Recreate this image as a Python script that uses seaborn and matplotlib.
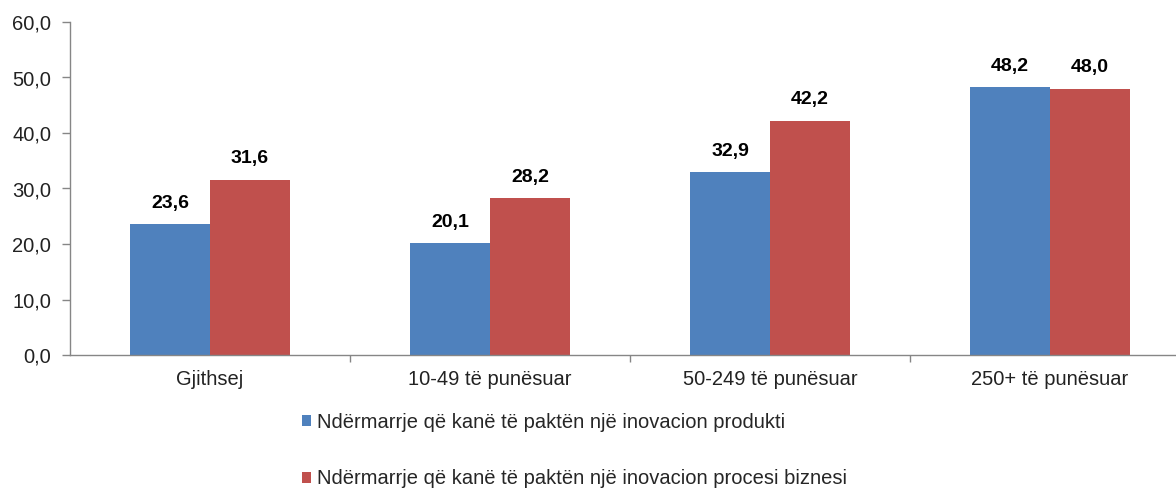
import matplotlib
matplotlib.use('Agg')
from matplotlib import pyplot as plt
from matplotlib.patches import Patch
from matplotlib.ticker import FixedLocator, FuncFormatter
import pandas as pd
import seaborn as sns

categories = ['Gjithsej', '10-49 të punësuar', '50-249 të punësuar', '250+ të punësuar']
series_names = ['Ndërmarrje që kanë të paktën një inovacion produkti',
                'Ndërmarrje që kanë të paktën një inovacion procesi biznesi']
produkti = [23.6, 20.1, 32.9, 48.2]
procesi = [31.6, 28.2, 42.2, 48.0]
colors = ['#4F81BD', '#C0504D']

df = pd.DataFrame({
    'kategoria': categories * 2,
    'seria': [series_names[0]] * 4 + [series_names[1]] * 4,
    'vlera': produkti + procesi,
})

sns.set_style('white')
plt.rcParams['font.family'] = ['Liberation Sans', 'DejaVu Sans']

fig = plt.figure(figsize=(11.76, 4.9), dpi=100)
ax = fig.add_axes([70 / 1176, 135 / 490, 1120 / 1176, 333 / 490])

sns.barplot(data=df, x='kategoria', y='vlera', hue='seria', order=categories,
            hue_order=series_names, palette=colors, width=0.572, saturation=1,
            linewidth=0, legend=False, ax=ax)

for cont in ax.containers:
    ax.bar_label(cont, labels=[f'{v:.1f}'.replace('.', ',') for v in cont.datavalues],
                 padding=9, fontsize=14, fontweight='bold', color='black')

ax.set_xlim(-0.5, 3.5)
ax.set_ylim(0, 60)
ax.set_yticks(range(0, 61, 10))
ax.yaxis.set_major_formatter(FuncFormatter(lambda v, p: f'{v:.1f}'.replace('.', ',')))
ax.set_xlabel('')
ax.set_ylabel('')

gray = '#868686'
for s in ['top', 'right']:
    ax.spines[s].set_visible(False)
for s in ['left', 'bottom']:
    ax.spines[s].set_color(gray)
    ax.spines[s].set_linewidth(1.0)

ax.tick_params(axis='y', which='major', left=True, length=6, width=1, color=gray,
               labelsize=14.5, labelcolor='#222222', pad=7.5)
ax.tick_params(axis='x', which='major', bottom=False, labelsize=14.5,
               labelcolor='#222222', pad=7)
ax.xaxis.set_minor_locator(FixedLocator([0.5, 1.5, 2.5]))
ax.tick_params(axis='x', which='minor', bottom=True, length=5, width=1, color=gray)

handles = [Patch(facecolor=c, edgecolor='none') for c in colors]
fig.legend(handles, series_names, loc='upper left', bbox_to_anchor=(294 / 1176, 1 - 405 / 490),
           frameon=False, fontsize=14.5, handlelength=0.45, handleheight=0.45,
           handletextpad=0.3, labelspacing=1.85, borderaxespad=0)

fig.savefig('out.png', dpi=100)
